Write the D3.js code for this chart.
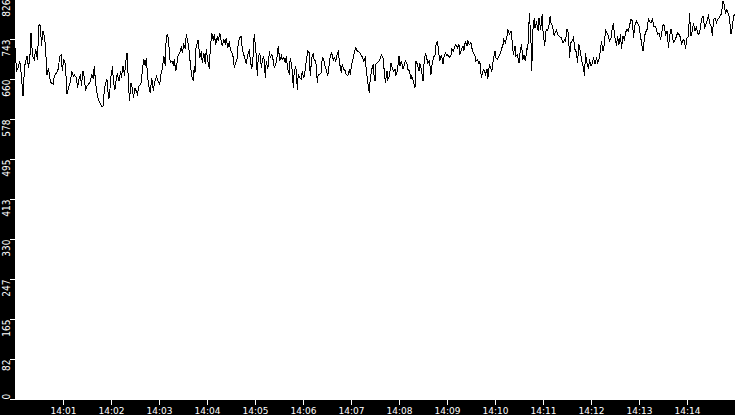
<!DOCTYPE html>
<html>
<head>
<meta charset="utf-8">
<script src="https://cdn.jsdelivr.net/npm/d3@7"></script>
<style>
  html, body { margin: 0; padding: 0; background: #fff; }
  svg { display: block; }
</style>
</head>
<body>
<div id="chart"></div>
<script>
// Seconds after 14:00:00 and the reading at that moment
const seconds = [
  0,2,4,6,8,10,12,15,17,19,20,22,24,26,28,30,32,33,35,37,38,40,42,43,45,48,49,52,54,56,
  58,59,61,63,65,67,69,71,73,74,77,78,80,82,83,85,87,88,90,92,94,96,98,99,101,103,105,108,110,112,
  113,115,117,118,120,122,123,125,127,128,130,132,133,135,137,138,140,142,143,145,147,148,150,153,155,158,159,161,163,164,
  166,168,169,171,173,174,177,178,181,183,184,186,188,189,191,193,194,196,198,199,201,203,204,206,208,209,211,213,214,216,
  218,219,221,223,224,
  225,226,228,229,231,233,234,236,238,239,241,243,244,246,248,249,251,253,254,256,258,259,261,263,264,266,268,269,271,273,
  274,276,278,279,281,283,284,286,288,289,291,293,294,296,298,299,301,303,304,306,308,309,311,313,314,316,318,319,321,323,
  324,326,328,329,331,333,334,336,338,339,341,343,344,346,348,349,351,353,354,356,358,359,361,363,364,366,368,369,371,373,
  374,376,378,379,381,383,384,386,388,389,391,393,394,396,398,399,401,403,404,406,408,409,411,413,414,416,418,419,421,423,
  424,426,428,429,431,433,434,436,438,439,441,443,444,446,448,449,
  450,451,453,455,456,458,460,461,463,465,466,468,470,471,473,475,476,478,480,481,483,485,486,488,490,491,493,495,496,498,
  500,501,503,505,506,508,510,511,513,515,516,518,520,521,523,525,526,528,530,531,533,535,536,538,540,541,543,545,546,548,
  550,551,553,555,556,558,560,561,563,565,566,568,570,571,573,575,576,578,580,581,583,585,586,588,590,591,593,595,596,598,
  600,601,603,605,606,608,610,611,613,615,616,618,620,621,623,625,626,628,630,631,633,635,636,638,640,641,643,645,646,647,
  649,650,652,654,655,657,659,660,662,664,665,667,669,670,672,674,
  675,677,678,680,682,683,685,687,688,690,692,693,695,697,698,700,702,703,705,707,708,710,712,713,715,717,718,720,722,723,
  725,727,728,730,732,733,735,737,738,740,742,743,745,747,748,750,752,753,755,757,758,760,762,763,765,767,768,770,772,773,
  775,777,778,780,782,783,785,787,788,790,792,793,795,797,798,800,802,803,805,807,808,810,812,813,815,817,818,820,822,823,
  825,827,828,830,832,833,835,837,838,840,842,843,845,847,848,850,852,853,855,857,858,860,862,863,865,867,868,870,872,873,
  875,877,878,880,882,883,885,887,888,890,892,893,895,897,898,900
];
const values = [
  725,677,684,698,667,625,687,708,684,715,756,708,701,722,701,773,770,729,760,746,729,670,684,667,653,650,667,674,681,708,
  711,677,701,691,629,643,653,677,667,670,663,643,660,670,646,677,660,636,646,650,656,670,660,687,650,625,615,605,605,643,
  650,660,619,625,667,687,653,639,667,670,656,677,663,687,667,691,715,650,615,653,639,622,643,629,646,653,677,701,687,705,
  663,639,632,663,636,650,667,660,650,677,681,708,687,749,753,718,694,698,691,701,677,698,711,715,729,715,732,722,753,739,
  715,694,667,656,687,
  674,722,736,742,705,718,694,715,691,722,698,681,722,756,739,753,732,749,739,756,736,729,742,732,746,725,739,722,715,705,
  684,694,705,736,746,749,722,711,698,694,711,722,701,681,715,753,722,667,705,715,684,698,708,663,698,681,718,705,711,698,
  684,691,711,729,698,708,701,705,694,708,681,670,705,687,643,677,687,639,670,663,660,677,663,681,698,718,715,667,705,715,
  698,698,653,670,670,674,705,701,684,681,667,694,708,715,698,705,698,715,718,691,674,691,681,677,670,667,681,670,691,705,
  715,725,718,718,715,708,708,698,705,681,653,632,660,681,691,663,
  656,691,694,698,701,711,705,687,653,677,660,667,694,687,677,681,667,677,708,687,698,681,687,698,691,681,677,660,667,656,
  643,698,691,677,694,681,656,687,715,701,694,698,670,687,705,711,729,739,711,698,711,691,705,715,708,711,705,711,722,718,
  729,732,725,732,711,722,729,718,739,729,739,732,736,725,715,708,698,701,691,698,663,677,681,670,681,660,691,681,677,701,
  718,705,701,708,711,722,732,742,736,749,763,753,760,746,711,729,708,711,694,711,732,701,711,698,725,722,797,736,677,756,
  787,767,777,760,787,763,794,760,729,763,760,767,791,777,770,749,
  756,763,753,749,746,746,736,742,739,763,756,705,736,742,746,722,715,694,732,715,701,687,667,715,694,681,701,687,694,705,
  691,705,694,701,722,739,718,736,763,756,749,739,746,770,773,746,729,749,732,753,722,749,742,756,763,760,770,784,780,746,
  773,780,777,770,749,736,718,749,756,763,787,780,777,787,770,770,763,753,756,742,753,773,770,749,760,725,749,763,749,736,
  742,749,756,753,746,732,742,739,722,746,749,797,749,763,777,760,770,756,753,767,784,791,767,770,780,794,777,770,749,784,
  787,777,784,787,794,794,822,811,797,804,794,787,753,770,791,794
];

const startClock = "14:00:00";
const endClock = "14:15:00";
const minuteTicks = ["14:01","14:02","14:03","14:04","14:05","14:06","14:07",
                     "14:08","14:09","14:10","14:11","14:12","14:13","14:14"];
const yMax = 826;
const yTickCount = 10;

const width = 735;
const height = 415;
const margin = { top: 0, right: 0, bottom: 15, left: 15 };
const plotBottom = height - margin.bottom;

const parseClock = d3.timeParse("%H:%M:%S");
const parseMinute = d3.timeParse("%H:%M");
const t0 = parseClock(startClock);
const points = seconds.map((s, i) => ({ t: d3.timeSecond.offset(t0, s), v: values[i] }));

const svg = d3.select("#chart")
    .append("svg")
    .attr("width", width)
    .attr("height", height);

svg.append("rect")
    .attr("width", width).attr("height", height)
    .attr("fill", "#fff");

// black frame bands for the axes
svg.append("rect")
    .attr("x", 0).attr("y", 0)
    .attr("width", margin.left).attr("height", height)
    .attr("fill", "#000");
svg.append("rect")
    .attr("x", 0).attr("y", plotBottom)
    .attr("width", width).attr("height", margin.bottom)
    .attr("fill", "#000");

const xScale = d3.scaleTime()
    .domain([t0, parseClock(endClock)])
    .range([margin.left, width - margin.right]);
const yScale = d3.scaleLinear()
    .domain([0, yMax])
    .range([plotBottom - 1, margin.top - 1]);

svg.append("clipPath").attr("id", "plot")
  .append("rect")
    .attr("x", margin.left).attr("y", margin.top)
    .attr("width", width - margin.left - margin.right)
    .attr("height", plotBottom - margin.top);

const line = d3.line()
    .x(d => xScale(d.t))
    .y(d => yScale(d.v));

svg.append("path")
    .datum(points)
    .attr("clip-path", "url(#plot)")
    .attr("fill", "none")
    .attr("stroke", "#000")
    .attr("stroke-width", 1)
    .attr("shape-rendering", "crispEdges")
    .attr("d", line);

// x axis
const xAxis = svg.append("g")
    .attr("transform", `translate(0,${plotBottom})`)
    .call(d3.axisBottom(xScale)
        .tickValues(minuteTicks.map(m => parseMinute(m)))
        .tickFormat(d3.timeFormat("%H:%M"))
        .tickSize(5).tickPadding(3));
xAxis.select(".domain").remove();
xAxis.selectAll("line").attr("stroke", "#fff");
xAxis.selectAll("text")
    .attr("fill", "#fff")
    .style("font-family", "'DejaVu Sans', sans-serif")
    .style("font-size", "9px");

// y axis with rotated labels
const yTicks = d3.range(yTickCount + 1).map(i => yMax * i / yTickCount);
const yAxis = svg.append("g")
    .attr("transform", `translate(${margin.left},0)`)
    .call(d3.axisLeft(yScale)
        .tickValues(yTicks)
        .tickFormat(d => String(Math.floor(d + 1e-9)))
        .tickSize(5));
yAxis.select(".domain").remove();
yAxis.selectAll("line").attr("stroke", "#fff");
yAxis.selectAll("text")
    .attr("fill", "#fff")
    .attr("transform", "rotate(-90)")
    .attr("x", 0)
    .attr("y", -5)
    .attr("dy", 0)
    .attr("text-anchor", d => d === 0 ? "start" : "end")
    .style("font-family", "'Liberation Sans Narrow', 'DejaVu Sans Condensed', sans-serif")
    .style("font-size", "10px");
</script>
</body>
</html>
